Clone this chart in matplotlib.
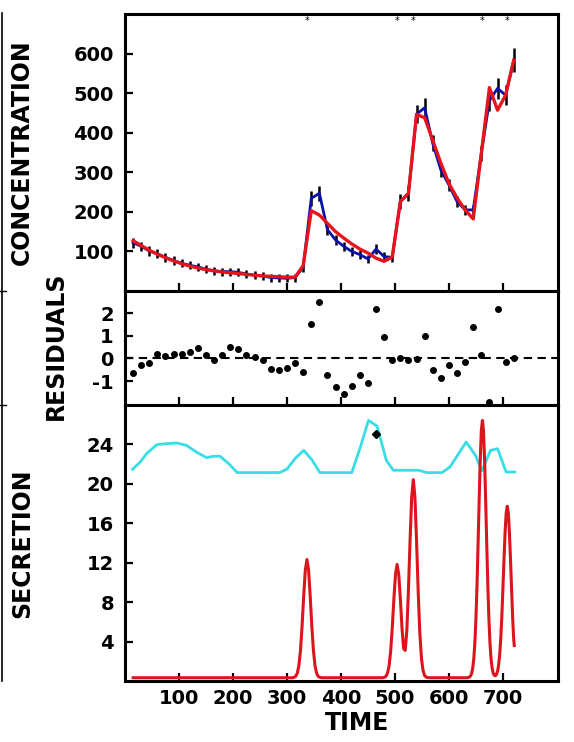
import matplotlib
matplotlib.use('Agg')
import matplotlib.pyplot as plt
from matplotlib.lines import Line2D

# ---------------- data ----------------
time = [15, 30, 45, 60, 75, 90, 105, 120, 135, 150, 165, 180, 195, 210, 225, 240,
        255, 270, 285, 300, 315, 330, 345, 360, 375, 390, 405, 420, 435, 450, 465, 480,
        495, 510, 525, 540, 555, 570, 585, 600, 615, 630, 645, 660, 675, 690, 705, 720]
observed = [122, 113, 101, 94, 85, 77, 70, 65, 61, 55, 51, 49, 49, 47, 43, 40,
            38, 34, 33, 32, 34, 60, 234, 247, 155, 129, 113, 100, 92, 81, 106, 87,
            85, 226, 246, 447, 463, 373, 306, 268, 226, 205, 205, 348, 481, 512, 495, 583]
fitted = [127, 115, 103, 93, 84, 76, 69, 63, 58, 54, 51, 48, 46, 44, 42, 40,
          38, 37, 36, 35, 35, 64, 203, 192, 171, 150, 134, 119, 106, 96, 83, 75,
          86, 226, 247, 446, 438, 381, 323, 272, 235, 205, 182, 348, 514, 457, 495, 583]
errors = [13, 12, 12, 11, 11, 11, 10, 10, 10, 10, 10, 10, 10, 10, 10, 10,
          10, 10, 10, 10, 10, 11, 19, 19, 14, 13, 12, 12, 11, 11, 12, 11,
          11, 18, 19, 23, 25, 20, 17, 15, 14, 13, 13, 19, 25, 27, 26, 30]
residuals = [-0.62, -0.29, -0.21, 0.18, 0.11, 0.18, 0.21, 0.29, 0.45, 0.15, -0.05, 0.15,
             0.5, 0.4, 0.14, 0.05, -0.08, -0.46, -0.5, -0.42, -0.21, -0.61, 1.53, 2.5,
             -0.73, -1.24, -1.56, -1.2, -0.74, -1.07, 2.17, 0.96, -0.08, 0.01, -0.08, -0.02,
             0.99, -0.49, -0.84, -0.29, -0.62, -0.14, 1.39, 0.14, -1.93, 2.17, -0.17, 0.01]
pulse_times = [337, 504, 534, 662, 708]

sec_time = [15, 310,
            313, 316, 319, 322, 325, 328, 331, 334, 337, 340, 343, 346, 349, 352, 355, 358, 361,
            364, 477,
            480, 483, 486, 489, 492, 495, 498, 501, 504, 507, 510, 513, 516, 519, 522, 525,
            528, 531, 534, 537, 540, 543, 546, 549, 552, 555, 558, 561,
            564, 634,
            636, 638, 640, 642, 644, 646, 648, 650, 652, 654, 656, 658, 660, 662, 664, 666,
            668, 670, 672, 674, 676, 678, 680, 682, 684, 686, 688, 690, 692, 694, 696, 698,
            700, 702, 704, 706, 708, 710, 712, 714, 716, 718, 720, 721]
sec_rate = [0.33, 0.33,
            0.37, 0.46, 0.77, 1.54, 3.09, 5.59, 8.63, 11.27, 12.33, 11.27, 8.63, 5.59, 3.09, 1.54, 0.77, 0.46, 0.37,
            0.33, 0.33,
            0.36, 0.46, 0.76, 1.49, 2.98, 5.37, 8.29, 10.82, 11.83, 10.83, 8.35, 5.4, 3.3, 3.1, 5.1, 9.26,
            14.27, 18.66, 20.43, 18.66, 14.24, 9.13, 4.95, 2.36, 1.07, 0.55, 0.39, 0.34,
            0.33, 0.33,
            0.36, 0.40, 0.52, 0.77, 1.30, 2.24, 3.85, 6.33, 9.73, 13.93, 18.39, 22.49, 25.39, 26.43, 25.39, 22.49,
            18.39, 13.93, 9.73, 6.33, 3.85, 2.24, 1.30, 0.79, 0.57, 0.53, 0.66, 0.98, 1.60, 2.68, 4.33, 6.59,
            9.40, 12.37, 15.10, 17.03, 17.73, 17.03, 15.10, 12.37, 9.40, 6.4, 4.2, 3.6]

cyan_time = [14, 28, 40, 59, 77, 96, 114, 133, 151, 164, 176, 192, 208, 287, 300, 315,
             331, 346, 361, 420, 436, 451, 467, 484, 497, 544, 559, 587, 602, 618, 632,
             649, 661, 677, 690, 706, 722]
cyan_val = [21.48, 22.2, 23.07, 23.98, 24.08, 24.15, 23.9, 23.2, 22.66, 22.8, 22.8, 22.05,
            21.14, 21.15, 21.5, 22.56, 23.4, 22.46, 21.14, 21.14, 23.74, 26.44, 25.84, 22.4,
            21.38, 21.38, 21.14, 21.14, 21.72, 23.07, 24.25, 22.9, 21.3, 23.4, 23.57, 21.2, 21.2]
marker_time = [465]
marker_val = [25.1]

top_yticks = [100, 200, 300, 400, 500, 600]
res_yticks = [-1, 0, 1, 2]
sec_yticks = [4, 8, 12, 16, 20, 24]
xticks = [100, 200, 300, 400, 500, 600, 700]

# ---------------- figure ----------------
W, H = 574, 742
fig = plt.figure(figsize=(W / 100, H / 100), dpi=100)
FONT = 'DejaVu Sans'

def fx(px):
    return px / W

def fy(py):
    return 1 - py / H

left, right = 125, 558
ax1 = fig.add_axes([fx(left), fy(291), fx(right - left), (291 - 14) / H])
ax2 = fig.add_axes([fx(left), fy(405), fx(right - left), (405 - 291) / H])
ax3 = fig.add_axes([fx(left), fy(681), fx(right - left), (681 - 405) / H])

for ax in (ax1, ax2, ax3):
    ax.set_xlim(0, 802)
    for s in ax.spines.values():
        s.set_linewidth(2.2)
    ax.tick_params(direction='in', length=6, width=1.6, pad=8,
                   labelsize=14, top=False, right=False)
    ax.set_xticks(xticks)

# top panel: concentration
ax1.set_ylim(0, 700)
ax1.errorbar(time, observed, yerr=errors, fmt='none', ecolor='black', elinewidth=1.8,
             capsize=0, zorder=2)
ax1.plot(time, observed, color='#0a10a8', lw=2.0, zorder=3)
ax1.plot(time, fitted, color='#e8141c', lw=2.4, zorder=4)
for pt in pulse_times:
    ax1.text(pt, 683, '*', ha='center', va='center', fontsize=7, color='black')
ax1.set_yticks(top_yticks)
ax1.set_xticklabels([])

# middle panel: residuals
ax2.set_ylim(-2.05, 2.97)
ax2.axhline(0, color='black', lw=1.5, ls=(0, (4, 2.6)), zorder=1)
ax2.plot(time, residuals, 'o', color='black', ms=4, zorder=3, clip_on=False)
ax2.set_yticks(res_yticks)
ax2.set_yticklabels([str(v) for v in res_yticks])
ax2.set_xticklabels([])

# bottom panel: secretion
ax3.set_ylim(0, 28)
ax3.plot(cyan_time, cyan_val, color='#38dde6', lw=2.0, zorder=2)
ax3.plot(sec_time, sec_rate, color='#dc141c', lw=2.2, zorder=3)
ax3.plot(marker_time, marker_val, 'D', color='black', ms=4.5, zorder=4)
ax3.set_yticks(sec_yticks)
ax3.set_xticklabels([str(v) for v in xticks])
ax3.tick_params(axis='x', pad=6)

for ax in (ax1, ax2, ax3):
    for lab in ax.get_yticklabels() + ax.get_xticklabels():
        lab.set_fontweight('bold')
        lab.set_family(FONT)
        lab.set_fontsize(14)

# axis titles
lab_kw = dict(fontsize=17, fontweight='bold', family=FONT, ha='center', va='center')
fig.text(fx(22), fy(152), 'CONCENTRATION', rotation=90, **lab_kw)
fig.text(fx(56), fy(346), 'RESIDUALS', rotation=90, **lab_kw)
fig.text(fx(22.5), fy(543.5), 'SECRETION', rotation=90, **lab_kw)
fig.text(fx(357), fy(723), 'TIME', **lab_kw)

# left frame line
fig.add_artist(Line2D([fx(2), fx(2)], [fy(13), fy(681)], transform=fig.transFigure,
                      color='black', lw=1.2))
for yb in (291, 405):
    fig.add_artist(Line2D([fx(0), fx(6)], [fy(yb), fy(yb)], transform=fig.transFigure,
                          color='black', lw=1.0))

fig.savefig('out.png', dpi=100)
